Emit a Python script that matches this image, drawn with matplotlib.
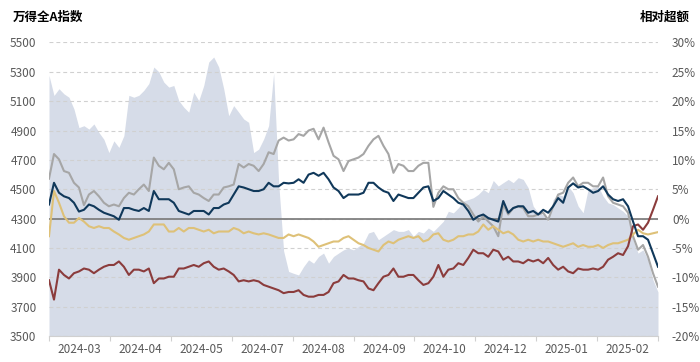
#!/usr/bin/env python3
import numpy as np
import matplotlib
matplotlib.use('Agg')
import matplotlib.pyplot as plt

plt.rcParams.update({
    'font.family': ['Noto Sans CJK SC', 'DejaVu Sans'],
    'font.size': 8.5,
    'axes.unicode_minus': False,
})

# month labels sit between the tick marks
date_labels = ['2024-03', '2024-04', '2024-05', '2024-07', '2024-08',
               '2024-09', '2024-10', '2024-12', '2025-01', '2025-02']

# Wind All-A index level (left axis, shaded area)
index_level = [
    5276, 5139, 5185, 5150, 5127, 5047, 4920, 4933, 4910, 4945, 4887, 4840, 4750,
    4830, 4785, 4865, 5140, 5127, 5140, 5174, 5220, 5333, 5300, 5230, 5196,
    5207, 5104, 5059, 5025, 5161, 5104, 5207, 5367, 5401, 5333, 5185, 5001,
    5070, 5025, 4979, 4956, 4750, 4773, 4842, 4933, 5290, 4550, 4080, 3940,
    3927, 3916, 3973, 4019, 3996, 4042, 4065, 3996, 4042, 4065, 4087, 4099,
    4087, 4110, 4133, 4202, 4213, 4156, 4179, 4202, 4225, 4213, 4213, 4225,
    4179, 4213, 4202, 4236, 4213, 4247, 4282, 4350, 4339, 4373, 4419, 4430,
    4442, 4465, 4499, 4476, 4560, 4522, 4545, 4567, 4545, 4579, 4567, 4510,
    4385, 4339, 4328, 4282, 4430, 4465, 4453, 4522, 4476, 4385, 4340, 4499,
    4510, 4522, 4453, 4407, 4396, 4373, 4350, 4316, 4156, 4065, 4087, 4019,
    3882, 3800,
]

# relative excess return, % (right axis)
excess_gray = [
    6.8, 11.0, 10.1, 8.1, 7.8, 6.1, 5.3, 2.3, 4.1, 4.7, 3.8, 2.7, 2.1,
    2.4, 2.1, 3.5, 4.4, 4.1, 5.0, 5.8, 4.7, 10.4, 9.0, 8.4, 9.5,
    8.4, 5.0, 5.3, 5.5, 4.4, 4.1, 3.5, 3.0, 4.1, 4.1, 5.3, 5.5,
    5.8, 9.3, 8.7, 9.3, 9.0, 8.1, 9.3, 11.3, 11.0, 13.3, 13.8, 13.3,
    13.5, 14.4, 14.1, 15.0, 15.3, 13.5, 15.5, 13.0, 10.7, 10.1, 8.1, 9.8,
    10.1, 10.4, 11.0, 12.4, 13.5, 14.1, 12.4, 11.0, 7.8, 9.3, 9.0, 8.1,
    8.1, 9.0, 9.5, 9.5, 2.0, 4.4, 5.5, 5.0, 5.0, 3.5, 2.7, 2.1,
    0.7, -0.5, 0.4, -0.5, -1.3, -3.0, 2.4, 0.7, 1.8, 2.1, 1.8, 0.4,
    0.4, 0.7, 1.0, -0.2, 2.1, 4.1, 4.4, 6.1, 7.0, 5.5, 6.1, 6.1,
    5.5, 5.5, 7.0, 3.8, 2.7, 2.4, 2.1, 1.0, -3.0, -5.3, -4.5, -6.5,
    -9.3, -11.6,
]

excess_navy = [
    2.4, 6.1, 4.4, 3.8, 3.5, 2.7, 1.2, 1.5, 2.4, 2.1, 1.5, 1.0, 0.7,
    0.4, -0.2, 1.8, 1.8, 1.5, 1.3, 1.8, 1.3, 4.7, 3.3, 3.3, 3.3,
    2.7, 1.3, 1.0, 0.7, 1.3, 1.3, 1.3, 0.7, 1.8, 1.8, 2.4, 2.7,
    4.1, 5.5, 5.3, 5.0, 4.7, 4.7, 5.0, 6.1, 5.5, 5.5, 6.1, 6.0,
    6.1, 6.7, 6.1, 7.5, 7.8, 7.3, 7.8, 6.7, 5.3, 4.7, 3.5, 4.1,
    4.1, 4.1, 4.4, 6.1, 6.1, 5.3, 4.7, 4.4, 3.0, 4.1, 3.8, 3.5,
    3.5, 4.4, 5.3, 5.5, 3.0, 3.5, 4.7, 4.1, 3.5, 2.7, 2.4, 1.3,
    -0.2, 0.4, 0.7, 0.1, -0.2, -0.5, 3.0, 1.0, 1.8, 2.1, 2.1, 1.0,
    1.3, 0.7, 1.5, 1.0, 2.1, 3.5, 2.7, 5.3, 6.0, 5.3, 5.5, 5.0,
    4.4, 4.7, 5.5, 4.1, 3.3, 3.0, 3.3, 2.1, -0.5, -3.0, -3.0, -3.6,
    -5.9, -8.2,
]

excess_gold = [
    -3.0, 4.7, 2.7, 0.4, -0.7, -0.7, 0.1, -0.5, -1.3, -1.6, -1.3, -1.6, -1.6,
    -2.2, -2.7, -3.3, -3.6, -3.3, -3.0, -2.7, -2.2, -1.0, -1.0, -1.0, -2.2,
    -2.2, -1.6, -2.2, -1.6, -1.6, -1.9, -2.2, -1.9, -2.5, -2.2, -2.2, -2.2,
    -1.6, -1.9, -2.5, -2.2, -2.5, -2.7, -2.5, -2.7, -3.0, -3.3, -3.3, -2.7,
    -3.0, -2.7, -3.0, -3.3, -3.9, -4.8, -4.5, -4.2, -3.9, -3.9, -3.3, -3.0,
    -3.6, -4.2, -4.5, -5.0, -5.3, -5.6, -4.5, -3.9, -4.2, -3.6, -3.3, -3.0,
    -3.3, -3.0, -3.9, -3.6, -2.7, -2.5, -3.6, -3.9, -3.6, -3.0, -3.0, -2.7,
    -2.7, -2.2, -1.0, -1.9, -1.3, -1.9, -2.5, -2.2, -2.7, -3.6, -3.9, -3.6,
    -3.9, -3.6, -3.9, -3.9, -4.2, -4.5, -4.8, -4.5, -4.2, -4.8, -4.5, -4.8,
    -4.8, -4.5, -5.0, -4.5, -4.2, -4.2, -3.9, -3.6, -2.7, -1.9, -2.5, -2.7,
    -2.5, -2.3,
]

excess_red = [
    -10.5, -13.8, -8.7, -9.6, -10.2, -9.3, -9.0, -8.5, -8.7, -9.3, -8.7, -8.2, -7.9,
    -7.9, -7.3, -8.2, -9.6, -8.7, -8.7, -9.0, -8.5, -11.0, -10.2, -10.2, -9.9,
    -9.9, -8.5, -8.5, -8.2, -7.9, -8.2, -7.6, -7.3, -8.2, -8.7, -8.5, -9.0,
    -9.6, -10.7, -10.5, -10.7, -10.5, -10.7, -11.3, -11.6, -11.9, -12.2, -12.7, -12.5,
    -12.5, -12.2, -13.0, -13.3, -13.3, -13.0, -13.0, -12.5, -11.0, -10.7, -9.6, -10.2,
    -10.2, -10.5, -10.7, -11.9, -12.2, -11.0, -9.9, -9.6, -8.5, -9.9, -9.9, -9.6,
    -9.6, -10.5, -11.3, -11.0, -9.9, -7.9, -9.9, -8.7, -8.5, -7.6, -7.9, -6.7,
    -5.3, -5.9, -5.9, -6.5, -5.3, -5.6, -7.0, -6.5, -7.3, -7.3, -7.6, -7.0,
    -7.3, -7.0, -7.6, -6.7, -7.9, -8.7, -8.2, -9.0, -9.3, -8.5, -8.7, -8.7,
    -8.5, -8.7, -8.2, -7.0, -6.5, -5.9, -6.2, -4.7, -1.3, -1.0, -1.9, -0.7,
    1.5, 3.8,
]

TICK_COLOR = '#595959'
GRID_COLOR = '#d0d0d0'

x = np.arange(len(index_level))

fig = plt.figure(figsize=(7, 3.62), dpi=100)
ax = fig.add_axes([0.07, 0.0718, 0.87, 0.8108])

# shaded index on the left axis
ax.fill_between(x, index_level, 3500, color='#d6dce8', linewidth=0, zorder=1)
ax.set_ylim(3500, 5500)
ax.set_yticks(np.arange(3500, 5501, 200))
ax.set_xlim(0, len(x) - 1)
ax.set_axisbelow(False)
ax.yaxis.grid(True, color=GRID_COLOR, linewidth=0.8, linestyle=(0, (3.5, 2.7)))

# x ticks at even spacing, labels in the middle of each interval
edges = np.linspace(0, len(x) - 1, len(date_labels) + 1)
ax.set_xticks(edges)
ax.set_xticklabels([''] * len(edges))
ax.set_xticks((edges[:-1] + edges[1:]) / 2, minor=True)
ax.set_xticklabels(date_labels, minor=True)
ax.tick_params(axis='x', which='major', length=3.5, color='#d0d0d0', width=0.8)
ax.tick_params(axis='x', which='minor', length=0, pad=5, labelcolor=TICK_COLOR)
ax.tick_params(axis='y', length=0, pad=9, labelcolor=TICK_COLOR)

for side in ['top', 'left', 'right']:
    ax.spines[side].set_visible(False)
ax.spines['bottom'].set_color('#d0d0d0')
ax.spines['bottom'].set_linewidth(0.8)

# relative excess lines on the right axis
ax2 = ax.twinx()
ax2.set_ylim(-20, 30)
ax2.set_yticks(np.arange(-20, 31, 5))
ax2.set_yticklabels([f'{v}%' for v in range(-20, 31, 5)])
ax2.tick_params(axis='y', length=0, pad=10, labelcolor=TICK_COLOR)
for side in ['top', 'left', 'right', 'bottom']:
    ax2.spines[side].set_visible(False)

ax2.axhline(0, color='#808080', linewidth=1.3, zorder=2)
ax2.plot(x, excess_gray, color='#a6a6a6', linewidth=1.5, zorder=3)
ax2.plot(x, excess_gold, color='#dec178', linewidth=1.5, zorder=4)
ax2.plot(x, excess_red, color='#8b3c3c', linewidth=1.5, zorder=5)
ax2.plot(x, excess_navy, color='#10385a', linewidth=1.5, zorder=6)

fig.text(13 / 700, 1 - 17 / 362, '万得全A指数', fontsize=9, fontweight='bold',
         ha='left', va='center', color='black')
fig.text(690 / 700, 1 - 17 / 362, '相对超额', fontsize=9, fontweight='bold',
         ha='right', va='center', color='black')

plt.savefig('out.png', dpi=100)
plt.close()
